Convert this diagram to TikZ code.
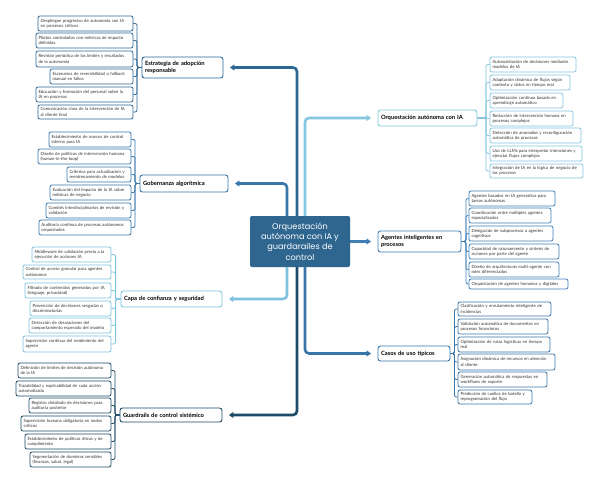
\documentclass[tikz,border=0pt]{standalone}
\usepackage{fontspec}
\usetikzlibrary{arrows.meta}
\newfontfamily\leaffam{Lato}
\newfontfamily\brfam{Lato}
\newfontfamily\ctrfam{Poppins}
\definecolor{cCenter}{HTML}{2F6690}
\definecolor{cEstr}{HTML}{2C6794}
\definecolor{cOrq}{HTML}{85C6E0}
\definecolor{cGob}{HTML}{3877AC}
\definecolor{cAg}{HTML}{3F7FB6}
\definecolor{cCapa}{HTML}{7DC3DE}
\definecolor{cCasos}{HTML}{3A75AA}
\definecolor{cGuard}{HTML}{1D4A66}
\definecolor{cText}{HTML}{333333}
\tikzset{
  leaf/.style={draw, fill=white, line width=0.8pt, rounded corners=2pt,
    font=\leaffam\fontsize{4.3}{5.2}\selectfont, text=cText, align=left,
    inner xsep=2.5pt, inner ysep=1pt},
  br/.style={draw, fill=white, line width=0.9pt, rounded corners=2.5pt,
    font=\brfam\bfseries\fontsize{5.8}{7}\selectfont, text=black, align=left,
    inner xsep=3pt, inner ysep=1pt},
  ctr/.style={fill=cCenter, rounded corners=2pt, text=white,
    font=\ctrfam\fontsize{8.2}{10.3}\selectfont, align=center},
  mainc/.style={line width=2.6pt, rounded corners=4pt,
    -{Triangle[length=4.5pt,width=6pt]}, shorten >=6.5pt},
  brk/.style={line width=0.8pt, rounded corners=2pt}
}
\newcommand\mkleaf[7]{%
  \pgfmathsetmacro\lfw{#3-#2}\pgfmathsetmacro\lftw{#3-#2-5}\pgfmathsetmacro\lfh{#5-#4}%
  \pgfmathsetmacro\lfx{(#2+#3)/2}\pgfmathsetmacro\lfy{(#4+#5)/2}%
  \node[leaf, draw=#6, minimum width=\lfw pt, text width=\lftw pt, minimum height=\lfh pt] (#1) at (\lfx,\lfy) {#7};}
\newcommand\mkbr[7]{%
  \pgfmathsetmacro\lfw{#3-#2}\pgfmathsetmacro\lftw{#3-#2-6}\pgfmathsetmacro\lfh{#5-#4}%
  \pgfmathsetmacro\lfx{(#2+#3)/2}\pgfmathsetmacro\lfy{(#4+#5)/2}%
  \node[br, draw=#6, minimum width=\lfw pt, text width=\lftw pt, minimum height=\lfh pt] (#1) at (\lfx,\lfy) {#7};}
\begin{document}
\begin{tikzpicture}[x=1pt,y=-1pt]
\useasboundingbox[fill=white] (0,0) rectangle (600,483);

% central node
\node[ctr, minimum width=100pt, minimum height=51pt] (c) at (300,241.5)
  {Orquestación\\autónoma con IA y\\guardarailes de\\control};

% branch nodes
\mkbr{estr}{142}{223}{57}{78}{cEstr}{Estrategia de adopción\\responsable}
\mkbr{gob}{140}{228}{175}{192}{cGob}{Gobernanza algorítmica}
\mkbr{capa}{121}{222}{291}{307}{cCapa}{Capa de confianza y seguridad}
\mkbr{guard}{120}{222}{408}{422}{cGuard}{Guardrails de control sistémico}
\mkbr{orq}{378}{477}{110}{126}{cOrq}{Orquestación autónoma con IA}
\mkbr{age}{378}{461}{231}{252}{cAg}{Agentes inteligentes en\\procesos}
\mkbr{casos}{378}{450}{346}{361}{cCasos}{Casos de uso típicos}

% main connectors
\draw[mainc, cGob] ([xshift=-13pt]c.north) |- (gob.east);
\draw[mainc, cEstr] ([xshift=-3pt]c.north) |- (estr.east);
\draw[mainc, cOrq] ([xshift=5pt]c.north) |- (orq.west);
\draw[mainc, cAg] (c.east) -- (c.east -| age.west);
\draw[mainc, cCapa] ([xshift=-13pt]c.south) |- (capa.east);
\draw[mainc, cGuard] ([xshift=-3pt]c.south) |- (guard.east);
\draw[mainc, cCasos] ([xshift=5pt]c.south) |- (casos.west);

% Estrategia leaves
\mkleaf{e1}{38}{133}{16}{31}{cEstr}{Despliegue progresivo de autonomía con IA\\en procesos críticos}
\mkleaf{e2}{36}{133}{33}{48}{cEstr}{Pilotos controlados con métricas de impacto\\definidas}
\mkleaf{e3}{36}{133}{51}{67}{cEstr}{Revisión periódica de los límites y resultados\\de la autonomía}
\mkleaf{e4}{50}{133}{69}{84}{cEstr}{Escenarios de reversibilidad o fallback\\manual en fallos}
\mkleaf{e5}{36}{133}{87}{102}{cEstr}{Educación y formación del personal sobre la\\IA en procesos}
\mkleaf{e6}{38}{133}{105}{119}{cEstr}{Comunicación clara de la intervención de IA\\al cliente final}
\foreach \n in {e1,e2,e3,e4,e5,e6}
  \draw[brk, cEstr] (estr.west) -- ++(-4.5,0) |- (\n.east);

% Gobernanza leaves
\mkleaf{g1}{49}{131}{132}{147}{cGob}{Establecimiento de marcos de control\\interno para IA}
\mkleaf{g2}{38}{131}{149}{164}{cGob}{Diseño de políticas de intervención humana\\(human-in-the-loop)}
\mkleaf{g3}{67}{131}{167}{182}{cGob}{Criterios para actualización y\\reentrenamiento de modelos}
\mkleaf{g4}{50}{131}{185}{200}{cGob}{Evaluación del impacto de la IA sobre\\métricas de negocio}
\mkleaf{g5}{46}{131}{203}{218}{cGob}{Comités interdisciplinarios de revisión y\\validación}
\mkleaf{g6}{39}{131}{220}{235}{cGob}{Auditoría continua de procesos autónomos\\orquestados}
\foreach \n in {g1,g2,g3,g4,g5,g6}
  \draw[brk, cGob] (gob.west) -- ++(-4.5,0) |- (\n.east);

% Capa leaves
\mkleaf{k1}{32}{111}{247}{262}{cCapa}{Middleware de validación previa a la\\ejecución de acciones IA}
\mkleaf{k2}{23}{111}{265}{279}{cCapa}{Control de acceso granular para agentes\\autónomos}
\mkleaf{k3}{25}{111}{283}{298}{cCapa}{Filtrado de contenidos generados por IA\\(lenguaje, privacidad)}
\mkleaf{k4}{30}{111}{301}{316}{cCapa}{Prevención de decisiones sesgadas o\\discriminatorias}
\mkleaf{k5}{29}{111}{318}{333}{cCapa}{Detección de desviaciones del\\comportamiento esperado del modelo}
\mkleaf{k6}{23}{111}{336}{352}{cCapa}{Supervisión continua del rendimiento del\\agente}
\foreach \n in {k1,k2,k3,k4,k5,k6}
  \draw[brk, cCapa] (capa.west) -- ++(-5,0) |- (\n.east);

% Guardrails leaves
\mkleaf{r1}{18}{111}{363}{378}{cGuard}{Definición de límites de decisión autónoma\\de la IA}
\mkleaf{r2}{16}{111}{381}{396}{cGuard}{Trazabilidad y explicabilidad de cada acción\\automatizada}
\mkleaf{r3}{29}{111}{398}{413}{cGuard}{Registro detallado de decisiones para\\auditoría posterior}
\mkleaf{r4}{21}{111}{416}{431}{cGuard}{Supervisión humana obligatoria en nodos\\críticos}
\mkleaf{r5}{25}{111}{434}{449}{cGuard}{Establecimiento de políticas éticas y de\\cumplimiento}
\mkleaf{r6}{30}{111}{452}{467}{cGuard}{Segmentación de dominios sensibles\\(finanzas, salud, legal)}
\foreach \n in {r1,r2,r3,r4,r5,r6}
  \draw[brk, cGuard] (guard.west) -- ++(-4.5,0) |- (\n.east);

% Orquestacion leaves
\mkleaf{o1}{490}{576}{57}{72}{cOrq}{Automatización de decisiones mediante\\modelos de IA}
\mkleaf{o2}{490}{570}{75}{90}{cOrq}{Adaptación dinámica de flujos según\\contexto y datos en tiempo real}
\mkleaf{o3}{490}{563}{93}{108}{cOrq}{Optimización continua basada en\\aprendizaje automático}
\mkleaf{o4}{490}{573}{111}{126}{cOrq}{Reducción de intervención humana en\\procesos complejos}
\mkleaf{o5}{490}{581}{128}{143}{cOrq}{Detección de anomalías y reconfiguración\\automática de procesos}
\mkleaf{o6}{490}{582}{146}{161}{cOrq}{Uso de LLMs para interpretar intenciones y\\ejecutar flujos complejos}
\mkleaf{o7}{490}{583}{164}{178}{cOrq}{Integración de IA en la lógica de negocio de\\los procesos}
\foreach \n in {o1,o2,o3,o4,o5,o6,o7}
  \draw[brk, cOrq] (orq.east) -- ++(8.5,0) |- (\n.west);

% Agentes leaves
\mkleaf{a1}{469}{555}{191}{206}{cAg}{Agentes basados en IA generativa para\\tareas autónomas}
\mkleaf{a2}{469}{551}{208}{223}{cAg}{Coordinación entre múltiples agentes\\especializados}
\mkleaf{a3}{469}{553}{226}{241}{cAg}{Delegación de subprocesos a agentes\\cognitivos}
\mkleaf{a4}{469}{559}{244}{259}{cAg}{Capacidad de razonamiento y síntesis de\\acciones por parte del agente}
\mkleaf{a5}{469}{559}{262}{277}{cAg}{Diseño de arquitecturas multi-agente con\\roles diferenciados}
\mkleaf{a6}{469}{568}{279}{289}{cAg}{Orquestación de agentes humanos y digitales}
\foreach \n in {a1,a2,a3,a4,a5,a6}
  \draw[brk, cAg] (age.east) -- ++(4.5,0) |- (\n.west);

% Casos leaves
\mkleaf{s1}{458}{551}{302}{316}{cCasos}{Clasificación y enrutamiento inteligente de\\incidencias}
\mkleaf{s2}{458}{548}{319}{334}{cCasos}{Validación automática de documentos en\\procesos financieros}
\mkleaf{s3}{458}{550}{337}{352}{cCasos}{Optimización de rutas logísticas en tiempo\\real}
\mkleaf{s4}{458}{555}{354}{370}{cCasos}{Asignación dinámica de recursos en atención\\al cliente}
\mkleaf{s5}{458}{547}{372}{387}{cCasos}{Generación automática de respuestas en\\workflows de soporte}
\mkleaf{s6}{458}{532}{390}{404}{cCasos}{Predicción de cuellos de botella y\\reprogramación del flujo}
\foreach \n in {s1,s2,s3,s4,s5,s6}
  \draw[brk, cCasos] (casos.east) -- ++(4,0) |- (\n.west);
\end{tikzpicture}
\end{document}
